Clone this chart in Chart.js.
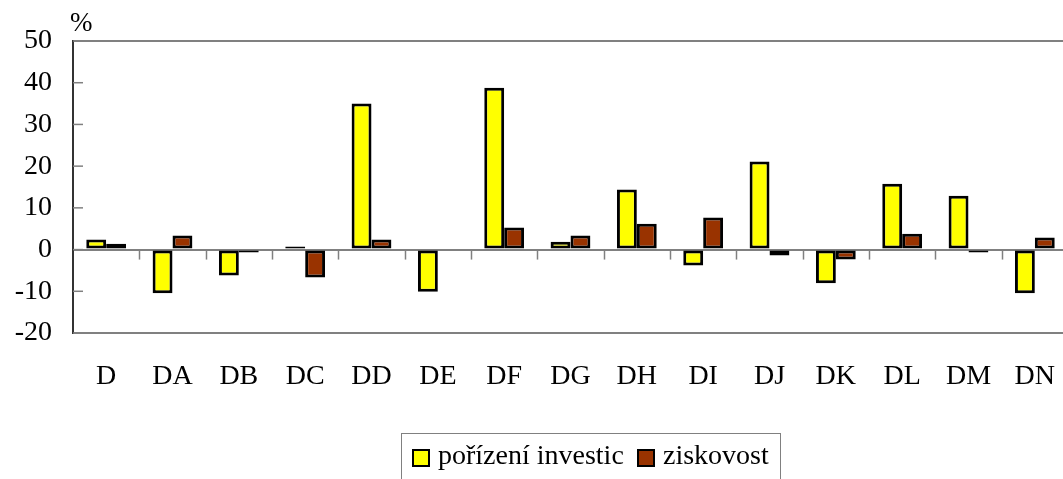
<!DOCTYPE html>
<html>
<head>
<meta charset="utf-8">
<script src="https://cdn.jsdelivr.net/npm/chart.js@4/dist/chart.umd.min.js"></script>
<style>
  body { margin: 0; width: 1063px; height: 479px; overflow: hidden; background: #fff; position: relative; }
  #wrap { position: absolute; left: 0; top: 0; width: 1070px; height: 479px; }
  .serif { font-family: "Liberation Serif", "Times New Roman", serif; color: #000; }
  #unit { position: absolute; left: 70px; top: 7px; font-size: 27px; }
  #legend { position: absolute; left: 401px; top: 433px; width: 380px; height: 80px; border: 1px solid #808080; box-sizing: border-box; font-size: 28px; white-space: nowrap; }
  #legend .sw { display: inline-block; width: 14px; height: 14px; border: 2px solid #000; vertical-align: middle; margin-right: 1px; }
  #legend .item { position: absolute; top: 5px; }
</style>
</head>
<body>
<div id="wrap"><canvas id="chart" width="1070" height="479"></canvas></div>
<div id="unit" class="serif">%</div>
<div id="legend" class="serif">
  <span class="item" style="left:10px"><span class="sw" style="background:#ffff00"></span> pořízení investic</span>
  <span class="item" style="left:235px"><span class="sw" style="background:#993300"></span> ziskovost</span>
</div>
<script>
const categories = ['D', 'DA', 'DB', 'DC', 'DD', 'DE', 'DF', 'DG', 'DH', 'DI', 'DJ', 'DK', 'DL', 'DM', 'DN'];
const investice = [2.4, -10.5, -6.2, 0.4, 35.0, -10.1, 38.8, 1.9, 14.4, -3.8, 21.1, -8.1, 15.8, 12.9, -10.5];
const ziskovost = [1.4, 3.4, -0.5, -6.7, 2.4, null, 5.3, 3.4, 6.2, 7.7, -1.4, -2.4, 3.8, -0.5, 2.9];
const yTicks = [50, 40, 30, 20, 10, 0, -10, -20];

const serif = '"Liberation Serif", "Times New Roman", serif';

// inner tick marks on the y axis and category ticks under the zero line
const tickMarks = {
    id: 'tickMarks',
    afterDatasetsDraw(chart) {
        const { ctx, chartArea, scales } = chart;
        const x = scales.x, y = scales.y;
        ctx.save();
        ctx.strokeStyle = '#808080';
        ctx.lineWidth = 1.5;
        yTicks.forEach(v => {
            const py = y.getPixelForValue(v);
            ctx.beginPath();
            ctx.moveTo(chartArea.left, py);
            ctx.lineTo(chartArea.left + 10, py);
            ctx.stroke();
        });
        const zero = y.getPixelForValue(0);
        const half = (x.getPixelForValue(1) - x.getPixelForValue(0)) / 2;
        for (let i = 0; i < categories.length - 1; i++) {
            const px = Math.round(x.getPixelForValue(i) + half) + 0.5;
            ctx.beginPath();
            ctx.moveTo(px, zero);
            ctx.lineTo(px, zero + 10);
            ctx.stroke();
        }
        ctx.restore();
    }
};

new Chart(document.getElementById('chart'), {
    type: 'bar',
    data: {
        labels: categories,
        datasets: [
            { label: 'pořízení investic', data: investice, backgroundColor: '#ffff00', borderColor: '#000', borderWidth: 3, borderSkipped: false, minBarLength: 3 },
            { label: 'ziskovost', data: ziskovost, backgroundColor: '#993300', borderColor: '#000', borderWidth: 3, borderSkipped: false, minBarLength: 3 }
        ]
    },
    options: {
        responsive: false,
        animation: false,
        categoryPercentage: 0.6,
        barPercentage: 1.0,
        layout: { padding: { top: 41, right: 2, left: 0, bottom: 0 } },
        plugins: { legend: { display: false }, tooltip: { enabled: false } },
        scales: {
            x: {
                grid: { display: true, drawOnChartArea: false, drawTicks: true, tickLength: 27, tickColor: 'transparent' },
                border: { display: false },
                ticks: { color: '#000', font: { family: serif, size: 28 }, padding: 0, maxRotation: 0, autoSkip: false },
                afterFit(s) { s.height = 146; }
            },
            y: {
                min: -20,
                max: 50,
                grid: {
                    drawTicks: false,
                    lineWidth: 2,
                    color: c => (c.tick && [50, 0, -20].includes(c.tick.value)) ? '#808080' : 'transparent'
                },
                border: { display: true, color: '#333', width: 2 },
                ticks: { stepSize: 10, color: '#000', font: { family: serif, size: 28 }, padding: 21 },
                afterFit(s) { s.width = 73; }
            }
        }
    },
    plugins: [tickMarks]
});
</script>
</body>
</html>
